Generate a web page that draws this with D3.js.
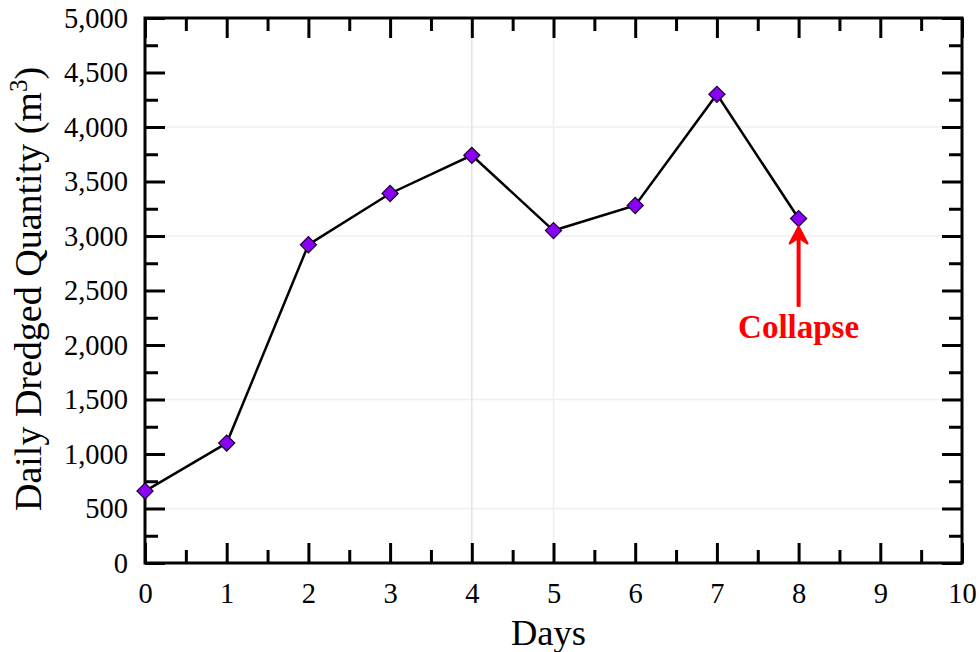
<!DOCTYPE html>
<html>
<head>
<meta charset="utf-8">
<script src="https://cdn.jsdelivr.net/npm/d3@7"></script>
<style>
  html, body { margin: 0; padding: 0; background: #fff; }
  svg { display: block; }
  text { font-family: "Liberation Serif", "Times New Roman", serif; }
</style>
</head>
<body>
<svg id="chart" width="979" height="652"></svg>
<script>
// ---- data ----
const days = [0, 1, 2, 3, 4, 5, 6, 7, 8];
const quantities = [660, 1100, 2920, 3390, 3740, 3050, 3280, 4300, 3160];
const xTicks = [0, 1, 2, 3, 4, 5, 6, 7, 8, 9, 10];
const xMinorTicks = [0.5, 1.5, 2.5, 3.5, 4.5, 5.5, 6.5, 7.5, 8.5, 9.5];
const yTicks = [0, 500, 1000, 1500, 2000, 2500, 3000, 3500, 4000, 4500, 5000];
const yMinorTicks = [250, 750, 1250, 1750, 2250, 2750, 3250, 3750, 4250, 4750];
const hGrid = [500, 1500, 3000, 4000];
const vGrid = [4, 5];
const annotation = { day: 8, label: "Collapse", from: 2350 };
const xTitle = "Days";
const yTitle = "Daily Dredged Quantity (m";

// ---- layout ----
const L = 145, R = 962, T = 18, B = 563;
const svg = d3.select("#chart");
const x = d3.scaleLinear().domain([0, 10]).range([L, R]);
const y = d3.scaleLinear().domain([0, 5000]).range([B, T]);

// gridlines
svg.append("g").selectAll("line").data(hGrid).join("line")
  .attr("x1", L).attr("x2", R)
  .attr("y1", d => y(d)).attr("y2", d => y(d))
  .attr("stroke", "#efefef").attr("stroke-width", 1.5);
svg.append("g").selectAll("line").data(vGrid).join("line")
  .attr("x1", d => x(d)).attr("x2", d => x(d))
  .attr("y1", T).attr("y2", B)
  .attr("stroke", (d, i) => i === 0 ? "#e2e2e2" : "#efefef").attr("stroke-width", 1.5);

function styleAxis(g) {
  g.select(".domain").remove();
  g.selectAll(".tick line").attr("stroke", "#000").attr("stroke-width", 3);
  g.selectAll(".tick text").attr("fill", "#000").attr("font-size", 28.5)
    .attr("font-family", "'Liberation Serif', 'Times New Roman', serif");
}

// bottom axis
svg.append("g").attr("transform", `translate(0,${B})`)
  .call(d3.axisBottom(x).tickValues(xTicks).tickSizeInner(-20).tickSizeOuter(0).tickPadding(20).tickFormat(d3.format("d")))
  .call(styleAxis);
svg.append("g").attr("transform", `translate(0,${B})`)
  .call(d3.axisBottom(x).tickValues(xMinorTicks).tickSizeInner(-13).tickSizeOuter(0).tickFormat(""))
  .call(styleAxis);
// top axis
svg.append("g").attr("transform", `translate(0,${T})`)
  .call(d3.axisTop(x).tickValues(xTicks).tickSizeInner(-20).tickSizeOuter(0).tickFormat(""))
  .call(styleAxis);
svg.append("g").attr("transform", `translate(0,${T})`)
  .call(d3.axisTop(x).tickValues(xMinorTicks).tickSizeInner(-13).tickSizeOuter(0).tickFormat(""))
  .call(styleAxis);
// left axis
svg.append("g").attr("transform", `translate(${L},0)`)
  .call(d3.axisLeft(y).tickValues(yTicks).tickSizeInner(-20).tickSizeOuter(0).tickPadding(17).tickFormat(d3.format(",")))
  .call(styleAxis);
svg.append("g").attr("transform", `translate(${L},0)`)
  .call(d3.axisLeft(y).tickValues(yMinorTicks).tickSizeInner(-13).tickSizeOuter(0).tickFormat(""))
  .call(styleAxis);
// right axis
svg.append("g").attr("transform", `translate(${R},0)`)
  .call(d3.axisRight(y).tickValues(yTicks).tickSizeInner(-20).tickSizeOuter(0).tickFormat(""))
  .call(styleAxis);
svg.append("g").attr("transform", `translate(${R},0)`)
  .call(d3.axisRight(y).tickValues(yMinorTicks).tickSizeInner(-13).tickSizeOuter(0).tickFormat(""))
  .call(styleAxis);

// frame
svg.append("rect").attr("x", L).attr("y", T).attr("width", R - L).attr("height", B - T)
  .attr("fill", "none").attr("stroke", "#000").attr("stroke-width", 3);

// line
const pts = days.map((d, i) => [d, quantities[i]]);
svg.append("path").datum(pts)
  .attr("fill", "none").attr("stroke", "#000").attr("stroke-width", 2.5)
  .attr("d", d3.line().x(d => x(d[0])).y(d => y(d[1])));

// markers
const diamond = d3.symbol().type(d3.symbolSquare).size(130);
svg.append("g").selectAll("path").data(pts).join("path")
  .attr("d", diamond)
  .attr("transform", d => `translate(${x(d[0])},${y(d[1])}) rotate(45)`)
  .attr("fill", "#8A00F5").attr("stroke", "#1a0030").attr("stroke-width", 1.2);

// annotation arrow
const ax = x(annotation.day);
const tipY = y(quantities[days.indexOf(annotation.day)]) + 8;
const baseY = y(annotation.from);
svg.append("line").attr("x1", ax).attr("x2", ax).attr("y1", baseY).attr("y2", tipY + 4)
  .attr("stroke", "#f00").attr("stroke-width", 4);
svg.append("path")
  .attr("d", `M${ax - 9},${tipY + 17} L${ax},${tipY} L${ax + 9},${tipY + 17} L${ax},${tipY + 11} Z`)
  .attr("fill", "#f00").attr("stroke", "#f00").attr("stroke-width", 2)
  .attr("stroke-linejoin", "round");
svg.append("text").attr("x", ax).attr("y", baseY + 31)
  .attr("text-anchor", "middle").attr("font-size", 33).attr("font-weight", "bold")
  .attr("fill", "#f00").text(annotation.label);

// axis titles
svg.append("text").attr("x", (L + R) / 2 - 5).attr("y", 645)
  .attr("text-anchor", "middle").attr("font-size", 36.5).attr("fill", "#000").text(xTitle);

const yt = svg.append("text")
  .attr("transform", `translate(41,289) rotate(-90)`)
  .attr("text-anchor", "middle").attr("font-size", 38).attr("fill", "#000");
yt.append("tspan").text(yTitle);
yt.append("tspan").attr("font-size", 25).attr("dy", -14).text("3");
yt.append("tspan").attr("dy", 14).text(")");
</script>
</body>
</html>
